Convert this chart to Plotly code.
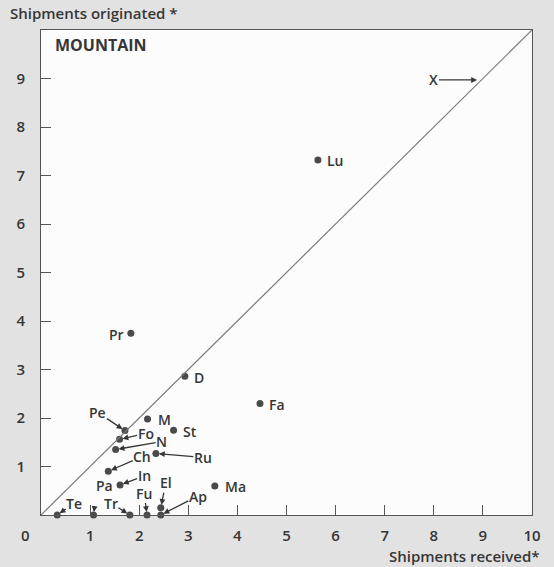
import plotly.graph_objects as go

# Shipments received (x) and originated (y) per firm
names = ["Lu", "Pr", "D", "Fa", "M", "St", "Pe", "Fo", "N", "Ru", "Ch", "Pa",
         "Ma", "El", "Te", "", "Tr", "Fu", "Ap"]
received = [5.64, 1.83, 2.93, 4.46, 2.17, 2.70, 1.71, 1.60, 1.52, 2.34, 1.37, 1.61,
            3.54, 2.44, 0.33, 1.07, 1.81, 2.16, 2.44]
originated = [7.32, 3.75, 2.86, 2.30, 1.98, 1.75, 1.74, 1.56, 1.35, 1.27, 0.90, 0.62,
              0.60, 0.15, 0.00, 0.00, 0.00, 0.00, 0.00]

x_ticks = [1, 2, 3, 4, 5, 6, 7, 8, 9, 10]
y_ticks = [1, 2, 3, 4, 5, 6, 7, 8, 9]

# Labels set beside their dot: (name, side, shift px)
side_labels = [("Lu", "right", 7), ("Pr", "left", -5), ("D", "right", 7),
               ("Fa", "right", 7), ("M", "right", 8), ("St", "right", 7),
               ("Ma", "right", 8), ("Pa", "left", -5)]
# Labels joined to their dot by an arrow: (label, target name, dx, dy)
arrow_labels = [("Pe", "Pe", -27, -18), ("Fo", "Fo", 26, -6), ("N", "N", 46, -8),
                ("Ru", "Ru", 47, 4), ("Ch", "Ch", 34, -15), ("In", "Pa", 24, -9),
                ("Fu", "Fu", -3, -22), ("El", "El", 5, -25), ("Ap", "Ap", 37, -19),
                ("Te", "Te", 17, -12), ("Tr", "Tr", -19, -12), (" ", "", 2, -16)]

INK = "#363636"
FONT = dict(family="Open Sans", size=15, color=INK, weight=600)
LABEL_FONT = dict(family="Open Sans", size=14, color=INK, weight=600)

fig = go.Figure()

fig.add_shape(type="line", x0=0, y0=0, x1=10, y1=10, xref="x", yref="y",
              line=dict(color="#7a7a7a", width=1.2))

fig.add_trace(go.Scatter(x=received, y=originated, mode="markers",
                         marker=dict(size=7, color="#4a4a4a"),
                         cliponaxis=False, hoverinfo="skip"))

lookup = {n: (x, y) for n, x, y in zip(names, received, originated)}

for name, side, shift in side_labels:
    x, y = lookup[name]
    fig.add_annotation(x=x, y=y, text=name, showarrow=False, font=LABEL_FONT,
                       xanchor="left" if side == "right" else "right",
                       xshift=shift, yshift=-1)

for label, target, dx, dy in arrow_labels:
    x, y = lookup[target]
    fig.add_annotation(x=x, y=y, text=label, showarrow=True, ax=dx, ay=dy,
                       font=LABEL_FONT, arrowhead=2, arrowsize=0.9,
                       arrowwidth=1.3, arrowcolor=INK, standoff=3,
                       startstandoff=0, borderpad=0)

# Arrow marking the point at the upper end of the diagonal
fig.add_annotation(x=8.88, y=8.97, text="X", showarrow=True, ax=-44, ay=0,
                   font=LABEL_FONT, arrowhead=2, arrowsize=0.9, arrowwidth=1.3,
                   arrowcolor=INK)

fig.add_annotation(x=0.024, y=0.97, xref="paper", yref="paper", text="MOUNTAIN",
                   showarrow=False, xanchor="left", yanchor="middle",
                   font=dict(family="Open Sans", size=16, color=INK, weight=700))

fig.add_annotation(x=-33 / 491, y=(515 - 13) / 485, xref="paper", yref="paper",
                   text="Shipments originated *", showarrow=False,
                   xanchor="left", yanchor="middle", font=FONT)
fig.add_annotation(x=1.02, y=-(556 - 515) / 485, xref="paper", yref="paper",
                   text="Shipments received*", showarrow=False,
                   xanchor="right", yanchor="middle", font=FONT)
fig.add_annotation(x=-16 / 491, y=-(535 - 515) / 485, xref="paper", yref="paper",
                   text="0", showarrow=False, xanchor="center", yanchor="middle",
                   font=FONT)

axis_common = dict(range=[0, 10], showgrid=False, zeroline=False,
                   showline=True, mirror=True, linecolor="#555555", linewidth=1,
                   ticks="inside", ticklen=10, tickcolor="#555555", tickwidth=1,
                   tickfont=FONT)

fig.update_xaxes(tickvals=x_ticks, ticktext=[str(v) for v in x_ticks],
                 ticklabelstandoff=7, **axis_common)
fig.update_yaxes(tickvals=y_ticks, ticktext=[str(v) for v in y_ticks],
                 ticklabelstandoff=12, **axis_common)

fig.update_layout(width=554, height=567,
                  margin=dict(l=41, r=22, t=30, b=52),
                  paper_bgcolor="#e2e2e2", plot_bgcolor="#fcfcfc",
                  showlegend=False)

fig.write_html("out.html")
